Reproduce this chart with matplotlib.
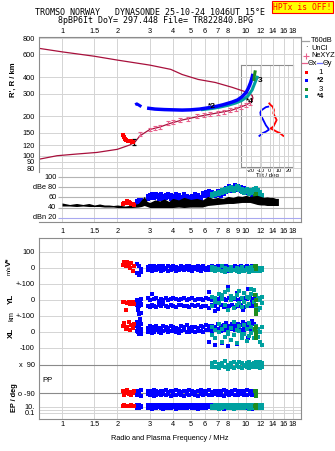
import matplotlib
matplotlib.use("Agg")
import matplotlib.pyplot as plt
import numpy as np
from matplotlib.lines import Line2D
from matplotlib.patches import Rectangle

plt.rcParams['font.family'] = ['Liberation Sans', 'DejaVu Sans']

# ---------------- data ----------------
FREQ_TICKS = [1, 1.5, 2, 3, 4, 5, 6, 7, 8, 9, 10, 12, 14, 16, 18]
TOP_LABELS = ['1', '1.5', '2', '3', '4', '5', '6', '7', '8', '', '10', '12', '14', '16', '18']
MID_LABELS = ['1', '1.5', '2', '3', '4', '5', '6', '7', '8', '9', '10', '12', '14', '16', '18']
H_TICKS = [80, 90, 100, 120, 150, 200, 300, 400, 600, 800]
DB_TICKS = [100, 80, 60, 40, 20]
DB_LABELS = ['100', 'dBe 80', '60', '40', 'dBn 20']
TILT_TICKS = [-20, -10, 0, 10, 20]

# model virtual-height curve
MODEL_F = [0.75, 0.94, 1.2, 1.55, 2.0, 2.34, 2.5, 2.65, 3.0, 3.4, 3.86, 4.5, 5.5, 6.5, 7.5, 8.4,
           9.3, 10.0, 10.5, 10.8, 10.9, 10.8, 10.4, 9.9, 8.4, 6.8, 5.5, 4.5, 3.9, 3.0, 2.0, 1.5, 1.0, 0.75]
MODEL_H = [94, 100, 103, 106, 112, 121, 128, 142, 159, 166, 177, 188, 200, 209, 217, 224,
           236, 245, 255, 265, 278, 290, 300, 310, 335, 365, 385, 420, 460, 496, 542, 580, 627, 667]
NE_F = [2.65, 3.0, 3.2, 3.4, 3.78, 4.0, 4.4, 4.85, 5.4, 5.9, 6.4, 7.0, 7.6, 8.2, 8.8, 9.4, 10.0, 10.5]
NE_H = [148, 159, 163, 165, 177, 182, 188, 193, 202, 206, 210, 214, 218, 223, 229, 236, 244, 254]
NE_BLACK_F = [2.47]
NE_BLACK_H = [128]

RED_TOP_F = [2.15, 2.17, 2.2, 2.24, 2.28, 2.32, 2.36, 2.4, 2.44]
RED_TOP_H = [143, 139, 134, 131, 130, 129, 130, 128, 127]
BLUE_BLOB_F = [2.5, 2.55, 2.6, 2.65, 2.7]
BLUE_BLOB_H = [246, 250, 246, 242, 238]
BLUE_TOP_F = [2.9, 3.2, 3.6, 4.0, 4.5, 5.0, 5.6, 6.2, 6.8, 7.5, 8.4, 9.0, 9.5, 10.0, 10.3, 10.6, 10.8, 10.9]
BLUE_TOP_H = [232, 228, 226, 225, 224, 225, 228, 233, 238, 246, 258, 268, 283, 305, 330, 365, 400, 425]
TEAL_TOP_F = [5.8, 6.5, 7.2, 8.0, 8.8, 9.5, 10.2, 10.8, 11.2, 11.5]
TEAL_TOP_H = [226, 230, 236, 244, 254, 266, 285, 320, 365, 400]
GREEN_TOP_F = [11.05, 11.1, 11.2]
GREEN_TOP_H = [385, 410, 440]

# tilt inset
TX_TILT = [-0.4, 1, 3.2, 4.6, 3.9, 5.7, 7.5, 5.7, 3.9, 1, 3.9, 7.5, 11, 14.6]
TX_H = [252, 245, 238, 224, 212, 199, 188, 177, 167, 162, 158, 153, 149, 142]
TY_TILT = [-1.5, -4, -8.6, -10, -9.6, -8, -6.9, -4, -1.5, -1, -4, -7.5, -11]
TY_H = [238, 236, 224, 215, 205, 195, 188, 171, 162, 158, 153, 149, 142]

# amplitude panel
F_N = [1.0, 1.1, 1.2, 1.3, 1.4, 1.5, 1.6, 1.7, 1.8, 1.9,
       2.0, 2.2, 2.4, 2.6, 2.7, 2.8, 2.9, 3.0, 3.2, 3.4,
       3.6, 3.8, 4.0, 4.3, 4.6, 5.0, 5.4, 5.8, 6.2, 6.6,
       7.0, 7.5, 8.0, 8.5, 9.0, 9.5, 10.0, 10.5, 11.0, 11.5,
       12.0, 12.5, 13.0, 13.5, 14.0, 14.5, 15.0]
N_LO = [43, 43, 42, 43, 42, 42, 42, 41, 41, 41,
        40, 40, 40, 41, 42, 44, 42, 40, 40, 40,
        40, 40, 40, 41, 40, 41, 41, 41, 44, 45,
        46, 47, 48, 48, 49, 50, 50, 50, 48, 46,
        45, 45, 44, 44, 44, 44, 44]
N_HI = [49, 46, 48, 46, 48, 45, 47, 45, 45, 44,
        45, 43, 45, 48, 55, 62, 52, 50, 55, 53,
        57, 52, 58, 55, 60, 56, 58, 55, 62, 58,
        60, 58, 62, 60, 63, 62, 64, 62, 63, 64,
        62, 60, 61, 60, 60, 58, 58]

F_B = [2.55, 2.62, 2.68, 2.95, 3.02,
       3.10, 3.18, 3.26, 3.35, 3.45,
       3.55, 3.66, 3.78, 3.90, 4.02,
       4.15, 4.30, 4.45, 4.60, 4.76,
       4.93, 5.10, 5.28, 5.47, 5.66,
       5.86, 6.07, 6.30, 6.53, 6.77,
       7.02, 7.28, 7.55, 7.83, 8.12,
       8.42, 8.73, 9.05, 9.38, 9.72,
       10.08, 10.45, 10.80, 11.10, 11.40]
DB_B1 = [52, 55, 54, 62, 64, 66, 65, 67, 64, 66, 63, 65, 67, 64, 62, 66, 64, 60, 66, 63,
         60, 62, 66, 64, 60, 68, 70, 72, 70, 68, 72, 70, 74, 78, 82, 80, 84, 82, 80, 78,
         76, 74, 72, 70, 66]
DB_B2 = [48, 50, 49, 56, 58, 60, 58, 60, 57, 59, 56, 58, 60, 57, 55, 58, 56, 54, 58, 56,
         54, 55, 58, 57, 55, 62, 63, 64, 63, 62, 64, 62, 66, 70, 74, 72, 76, 74, 72, 70,
         68, 66, 64, 62, 60]
V_B1 = [25, 10, -5, 5, 10, 0, 12, 8, 15, 5, 10, 2, 12, 6, 14, 8, 3, 12, 6, 10,
        15, 4, 9, 13, 5, 10, 2, 8, 14, 6, 10, 3, 9, 12, 5, 8, 14, 6, 10, 4,
        12, 7, 10, 5, 8]
V_B2 = [-30, -45, -25, -12, -8, -18, -10, -15, -5, -20, -12, -8, -16, -10, -6, -18, -12, -8, -14, -5,
        -10, -16, -8, -12, -18, -6, -10, -15, -8, -12, -5, -14, -10, -7, -16, -10, -5, -12, -8, -15,
        -6, -10, -14, -8, -12]
YL_B1 = [0, -10, 5, 10, 0, 40, 5, 10, -5, 8, 2, 12, 0, 6, 10, 4, 0, 8, 12, 2,
         6, 10, 0, 5, 8, 2, 10, 5, 0, 8, 4, 12, 6, 0, 10, 5, 8, 2, 6, 15,
         4, 10, 0, 8, 5]
YL_B2 = [-30, -40, -25, -35, -42, -30, -38, -45, -32, -40, -28, -36, -44, -30, -38, -42, -34, -30, -40, -36,
         -45, -32, -38, -30, -42, -36, -40, -48, -34, -38, -55, -30, -44, -36, -40, -32, -46, -38, -30, -42,
         -35, -40, -30, -38, -34]
XL_B1 = [40, 30, 50, 25, 35, 20, 30, 40, 28, 22, 35, 30, 25, 40, 32, 28, 20, 35, 30, 42,
         26, 34, 30, 22, 38, 30, 45, 35, 40, 30, 50, 38, 42, 55, 35, 48, 40, 52, 45, 38,
         50, 42, 55, 48, 40]
XL_B2 = [5, -10, 10, 0, 8, -5, 2, 12, 0, -4, 6, 10, -2, 5, 8, 0, -6, 4, 10, 2,
         -3, 6, 0, 8, 4, -2, 10, 15, 5, 12, 20, 8, 15, 10, 25, 18, 12, 20, 15, 10,
         22, 18, 12, 20, 15]
PP_B1 = [-75, -80, -70, -78, -82, -76, -72, -80, -84, -74, -78, -70, -82, -76, -80, -72, -78, -84, -74, -80,
         -70, -76, -82, -78, -72, -80, -76, -70, -84, -78, -74, -80, -72, -78, -82, -76, -70, -80, -74, -78,
         -72, -80, -76, -82, -74]
PP_B2 = [-100, -95, -108, -98, -104, -96, -110, -100, -94, -106, -98, -102, -96, -108, -100, -104, -95, -100, -110, -98,
         -104, -96, -100, -108, -94, -102, -98, -106, -100, -96, -104, -100, -110, -98, -102, -96, -106, -100, -94, -104,
         -100, -98, -106, -102, -96]
EP_B1 = [30, 45, 25, 40, 35, 50, 30, 42, 28, 38, 45, 32, 40, 26, 36, 48, 30, 40, 34, 44,
         28, 38, 46, 30, 40, 35, 28, 42, 36, 30, 44, 32, 38, 26, 40, 34, 30, 42, 36, 28,
         40, 32, 38, 30, 34]
EP_B2 = [4, 3, 6, 3, 5, 2.5, 4, 3, 6, 3.5, 2.5, 5, 3, 4, 6, 2.5, 4, 3, 5, 3.5,
         6, 3, 4, 2.5, 5, 3, 4, 6, 3, 4.5, 3, 5, 2.5, 4, 3, 6, 3.5, 4, 3, 5,
         3, 4, 2.5, 5, 3.5]
BX_F = [2.56, 2.58, 2.60, 2.63, 2.65, 2.68, 2.70, 2.62, 2.66]
BX_YL = [-5, -40, -60, -90, -120, -80, -30, -140, -20]
BX_XL = [60, 30, 0, 45, 75, -10, 20, 55, 10]
BS_F = [6.3, 6.8, 7.4, 8.0, 8.9, 9.6, 10.2, 10.8]
BS_YL = [50, -70, 30, 83, 45, -60, 70, -20]
BS_XL = [-60, -80, -70, -90, -75, 60, -40, 70]

F_T = [6.5, 6.8, 7.1, 7.4, 7.7, 8.0, 8.3, 8.6, 8.9, 9.2,
       9.5, 9.8, 10.1, 10.4, 10.7, 11.0, 11.3, 11.6, 11.9, 12.2]
DB_T1 = [66, 68, 70, 74, 76, 78, 80, 78, 82, 80, 76, 74, 76, 72, 74, 76, 78, 74, 70, 64]
DB_T2 = [62, 64, 66, 68, 70, 72, 74, 72, 76, 74, 70, 68, 70, 66, 68, 70, 72, 68, 64, 58]
V_T1 = [5, 0, -5, 10, 0, -8, 5, -10, 0, -5, 5, -12, 0, -5, 8, -3, -8, 0, -6, 2]
V_T2 = [-15, -20, -12, -18, -22, -15, -20, -14, -18, -25, -16, -20, -12, -22, -16, -18, -14, -20, -16, -12]
YL_T1 = [20, -10, 40, 5, -30, 60, 0, -50, 30, -20, 10, 45, -40, 15, 70, -10, 30, -60, 0, 20]
YL_T2 = [-40, 10, -20, 30, 50, -60, 25, 15, -30, 55, -45, -10, 20, -25, 40, 60, -35, 10, -50, -20]
XL_T1 = [30, 10, 50, 20, 40, 0, 25, 60, 15, 35, -10, 45, 20, 55, 30, 10, 40, 20, 0, 30]
XL_T2 = [-20, -40, 0, -60, -30, -10, -50, -20, -70, 5, -35, -15, -55, -25, -5, -40, -20, -30, -60, -80]
PP_T1 = [100, 110, 95, 105, 115, 90, 100, 108, 95, 112, 100, 90, 105, 110, 98, 104, 112, 96, 108, 100]
PP_T2 = [75, 80, 70, 85, 78, 65, 80, 72, 86, 75, 70, 82, 76, 68, 80, 74, 78, 84, 70, 76]
EP_T1 = [25, 40, 30, 45, 28, 36, 42, 30, 38, 26, 44, 32, 40, 28, 36, 30, 42, 34, 28, 38]
EP_T2 = [3, 5, 2.5, 4, 6, 3, 4.5, 2.5, 5, 3.5, 4, 3, 6, 2.5, 4, 5, 3, 4, 3.5, 5]

F_G = [11.25, 11.3, 11.35, 11.4, 11.3]
DB_G = [62, 66, 60, 64, 58]
V_G = [15, 5, -5, 10, 0]
YL_G = [30, 0, -30, -60, -90]
XL_G = [20, -10, -40, 0, 30]
PP_G = [-80, -90, -100, -110, -75]
EP_G = [20, 8, 30, 5, 12]

F_R = [2.15, 2.18, 2.22, 2.26, 2.30, 2.34, 2.38, 2.42, 2.46]
DB_R = [46, 48, 49, 52, 50, 49, 47, 46, 45]
V_R = [20, 35, 10, 40, 25, 0, 30, -20, 15]
YL_R = [-10, -15, -60, -20, -12, -25, -18, -10, -22]
XL_R = [40, 55, 20, 30, 65, 15, 45, 25, 50]
PP_R = [-80, -100, -90, -70, -95, -85, -105, -90, -80]
EP_R = [20, 30, 15, 25, 12, 18, 28, 14, 22]

# ---------------- style ----------------
RED = '#ff0000'
BLUE = '#0000ff'
GREEN = '#1e8c1e'
TEAL = '#00a0a0'
MODEL = '#a8103c'
PINK = '#e8608c'
GRID = '#d4d4d4'
SPINE = '#8c8c8c'
FS = 5.3
DOT = 5.5

W, H = 335, 451
fig = plt.figure(figsize=(W / 100, H / 100), dpi=100)
fig.patch.set_facecolor('white')


def rect(x0, y0, x1, y1):
    return [x0 / W, 1 - y1 / H, (x1 - x0) / W, (y1 - y0) / H]


XL_LIM = (0.75, 19.9)


def style_freq(ax):
    ax.set_xscale('log')
    ax.set_xlim(*XL_LIM)
    ax.set_xticks(FREQ_TICKS)
    ax.xaxis.set_minor_locator(matplotlib.ticker.NullLocator())
    for x in FREQ_TICKS:
        ax.axvline(x, color=GRID, lw=0.7, zorder=0)
    for s in ax.spines.values():
        s.set_color(SPINE)
        s.set_linewidth(0.8)
    ax.tick_params(length=0, labelsize=FS)


# ---------------- tilt inset (drawn first, below main) ----------------
axi = fig.add_axes(rect(241, 65, 293, 167))
axi.set_facecolor('none')
axi.set_yscale('log')
axi.set_xlim(-30.7, 25)
axi.set_ylim(81.9, 497)
axi.set_xticks(TILT_TICKS)
axi.set_xticklabels(['-20', '-10', '0', '10', '20'])
axi.set_yticks([])
axi.yaxis.set_minor_locator(matplotlib.ticker.NullLocator())
for t in TILT_TICKS:
    axi.axvline(t, color=GRID, lw=0.7, zorder=0)
axi.tick_params(length=0, labelsize=4.0, pad=0.5)
axi.set_xlabel('Tilt / deg', fontsize=4.3, labelpad=0)
for s in axi.spines.values():
    s.set_color(SPINE)
    s.set_linewidth(0.8)
axi.plot(TX_TILT, TX_H, color=RED, lw=1.3, zorder=3)
axi.plot(TY_TILT, TY_H, color=BLUE, lw=1.3, zorder=3)

# ---------------- top panel ----------------
ax = fig.add_axes(rect(39, 37, 301, 172))
ax.set_facecolor('none')
style_freq(ax)
ax.set_yscale('log')
ax.set_ylim(75, 815)
ax.set_yticks(H_TICKS)
ax.set_yticklabels([str(v) for v in H_TICKS])
ax.yaxis.set_minor_locator(matplotlib.ticker.NullLocator())
ax.tick_params(axis='y', pad=3)
for h in H_TICKS:
    ax.axhline(h, color=GRID, lw=0.7, zorder=0)
ax.xaxis.tick_top()
ax.set_xticklabels(TOP_LABELS)
ax.tick_params(axis='x', pad=1.5)
ax.spines['bottom'].set_visible(False)

ax.plot(MODEL_F, MODEL_H, color=MODEL, lw=0.9, zorder=2)
ne_h = np.array(NE_H, float)
ax.errorbar(NE_F, NE_H, yerr=ne_h * 0.035, fmt='none', ecolor=PINK, elinewidth=0.8,
            capsize=1.3, capthick=0.8, zorder=3)
ax.errorbar(NE_BLACK_F, NE_BLACK_H, yerr=np.array(NE_BLACK_H) * 0.05, fmt='none', ecolor='black',
            elinewidth=0.9, capsize=1.5, capthick=0.9, zorder=4)
ax.scatter(RED_TOP_F, RED_TOP_H, s=DOT, marker='s', c=RED, linewidths=0, zorder=4)
ax.plot(BLUE_BLOB_F, BLUE_BLOB_H, color=BLUE, lw=2.2, solid_capstyle='butt', zorder=4)
ax.plot(TEAL_TOP_F, TEAL_TOP_H, color=TEAL, lw=2.2, zorder=4)
ax.plot(BLUE_TOP_F, BLUE_TOP_H, color=BLUE, lw=2.5, solid_capstyle='butt', zorder=5)
ax.plot(GREEN_TOP_F, GREEN_TOP_H, color=GREEN, lw=2.2, zorder=5)
ax.text(6.5, 240, '*2', fontsize=6, fontweight='bold', ha='center', va='center', zorder=6)
ax.text(10.45, 262, '*4', fontsize=6, fontweight='bold', ha='center', va='center', zorder=6)
ax.text(11.9, 376, '3', fontsize=6, fontweight='bold', ha='center', va='center', zorder=6)

# ---------------- amplitude panel ----------------
axd = fig.add_axes(rect(39, 172, 301, 222))
axd.set_facecolor('none')
style_freq(axd)
axd.set_ylim(11.5, 110)
axd.set_yticks([])
axd.spines['top'].set_visible(False)
axd.spines['left'].set_visible(False)
axd.set_xticklabels(MID_LABELS)
axd.tick_params(axis='x', pad=4)
for v, lab in zip(DB_TICKS, DB_LABELS):
    c = '#a8a8f0' if v == 20 else '#b4b4b4'
    axd.hlines(v, 0.955, XL_LIM[1], color=c, lw=0.8, zorder=1)
    axd.text(0.935, v, lab, fontsize=FS, ha='right', va='center')
axd.scatter(F_B, DB_B1, s=DOT, marker='s', c=BLUE, linewidths=0, zorder=3)
axd.scatter(F_B, DB_B2, s=DOT, marker='s', c=BLUE, linewidths=0, zorder=3)
axd.scatter(F_T, DB_T1, s=DOT, marker='s', c=TEAL, linewidths=0, zorder=3)
axd.scatter(F_T, DB_T2, s=DOT, marker='s', c=TEAL, linewidths=0, zorder=3)
axd.scatter(F_G, DB_G, s=DOT, marker='s', c=GREEN, linewidths=0, zorder=3)
axd.fill_between(F_N, N_LO, N_HI, color='black', lw=0, zorder=4)
axd.scatter(F_R, DB_R, s=DOT, marker='s', c=RED, linewidths=0, zorder=5)

# ---------------- lower (velocity / location / polarisation) panel ----------------
BAND_ZERO = {'V': 268.0, 'YL': 300.0, 'XL': 332.0, 'PP': 379.0}
BAND_SCALE = {'V': 0.16, 'YL': 0.16, 'XL': 0.16, 'PP': 0.1556}
EP_ZERO, EP_DEC = 406.7, 3.0


def band_y(band, vals):
    v = np.asarray(vals, float)
    if band == 'EP':
        return EP_ZERO - EP_DEC * np.log10(v / 10.0)
    return BAND_ZERO[band] - BAND_SCALE[band] * v


axl = fig.add_axes(rect(39, 237.7, 301, 419.3))
style_freq(axl)
axl.set_ylim(419.3, 237.7)
tick_pos = [band_y('V', 100), band_y('V', 0), band_y('V', -100), band_y('YL', 0), band_y('YL', -100),
            band_y('XL', 0), band_y('XL', -100), band_y('PP', 90), band_y('PP', -90),
            band_y('EP', 10), band_y('EP', 0.1)]
tick_lab = ['100', '0', '+-100', '0', '+-100', '0', '-100', 'x  90', 'o -90', '10.', '0.1']
axl.set_yticks(tick_pos)
axl.set_yticklabels(tick_lab)
axl.tick_params(axis='y', pad=3)
axl.set_xticklabels(TOP_LABELS)
axl.tick_params(axis='x', pad=1.5)
for p in tick_pos + [float(band_y('EP', 1))]:
    axl.axhline(p, color=GRID, lw=0.7, zorder=0)
for p in [band_y('PP', 90), band_y('PP', -90)]:
    axl.axhline(p, color='#8a8a8a', lw=0.8, zorder=1)


def dots(f, y, c, s=DOT):
    axl.scatter(f, y, s=s, marker='s', c=c, linewidths=0, zorder=3)


for band, rows in [('V', (V_B1, V_B2)), ('YL', (YL_B1, YL_B2)), ('XL', (XL_B1, XL_B2)),
                   ('PP', (PP_B1, PP_B2)), ('EP', (EP_B1, EP_B2))]:
    for r in rows:
        dots(F_B, band_y(band, r), BLUE)
dots(BX_F, band_y('YL', BX_YL), BLUE)
dots(BX_F, band_y('XL', BX_XL), BLUE)
dots(BS_F, band_y('YL', BS_YL), BLUE)
dots(BS_F, band_y('XL', BS_XL), BLUE)
for band, rows in [('V', (V_T1, V_T2)), ('YL', (YL_T1, YL_T2)), ('XL', (XL_T1, XL_T2)),
                   ('PP', (PP_T1, PP_T2)), ('EP', (EP_T1, EP_T2))]:
    for r in rows:
        dots(F_T, band_y(band, r), TEAL)
for band, r in [('V', V_G), ('YL', YL_G), ('XL', XL_G), ('PP', PP_G), ('EP', EP_G)]:
    dots(F_G, band_y(band, r), GREEN)
for band, r in [('V', V_R), ('YL', YL_R), ('XL', XL_R), ('PP', PP_R), ('EP', EP_R)]:
    dots(F_R, band_y(band, r), RED)


# ---------------- texts ----------------
def ftext(x, y, s, **kw):
    return fig.text(x / W, 1 - y / H, s, **kw)


ftext(150, 12.3, 'TROMSO NORWAY   DYNASONDE 25-10-24 1046UT 15°E', family='DejaVu Sans Mono',
      fontsize=6, ha='center', va='center')
ftext(156, 20.3, '8pBP6It DoY= 297.448 File= TR822840.BPG', family='DejaVu Sans Mono',
      fontsize=6, ha='center', va='center')
ftext(302.5, 7, 'HPTx is OFF!', family='DejaVu Sans Mono', fontsize=5.8, color=RED,
      ha='center', va='center',
      bbox=dict(boxstyle='square,pad=0.2', facecolor='#ffff00', edgecolor=RED, lw=0.8))

ftext(13, 80, "R', R / km", rotation=90, fontsize=5.5, fontweight='bold', ha='center', va='center')
ftext(9, 266, 'V*', rotation=90, fontsize=5.8, fontweight='bold', ha='center', va='bottom')
ftext(9, 265, 'm/s', rotation=90, fontsize=4.3, ha='center', va='top')
ftext(11, 299, 'YL', rotation=90, fontsize=5.8, fontweight='bold', ha='center', va='center')
ftext(12, 316, 'km', rotation=90, fontsize=5.3, ha='center', va='center')
ftext(11, 333, 'XL', rotation=90, fontsize=5.8, fontweight='bold', ha='center', va='center')
ftext(42, 380, 'PP', fontsize=5.5, ha='left', va='center')
ftext(14, 398, 'EP / deg', rotation=90, fontsize=5.3, fontweight='bold', ha='center', va='center')
ftext(170, 439, 'Radio and Plasma Frequency / MHz', fontsize=5.3, ha='center', va='center')

# ---------------- legend ----------------
LEG_FS = 5.3
fig.add_artist(Line2D([302 / W, 309 / W], [1 - 41 / H] * 2, color='#a0a0a0', lw=0.9))
ftext(311, 41, 'T60dB', fontsize=LEG_FS, ha='left', va='center')
ftext(306, 48, '·', fontsize=LEG_FS, ha='center', va='center')
ftext(311, 48, 'UnCl', fontsize=LEG_FS, ha='left', va='center')
fig.add_artist(Line2D([306 / W], [1 - 55.7 / H], color=PINK, marker='+', ms=4, mew=0.8, lw=0))
ftext(311, 55.7, 'NeXYZ', fontsize=LEG_FS, ha='left', va='center')
fig.add_artist(Line2D([302 / W, 307 / W], [1 - 63.3 / H] * 2, color=PINK, lw=0.9))
ftext(308, 63.3, 'Θx', fontsize=LEG_FS, ha='left', va='center')
fig.add_artist(Line2D([317 / W, 322 / W], [1 - 63.3 / H] * 2, color='#7070ff', lw=0.9))
ftext(323, 63.3, 'Θy', fontsize=LEG_FS, ha='left', va='center')
for y, c, lab in [(72.7, RED, '1'), (80.7, BLUE, '*2'), (89.3, GREEN, '3'), (96.7, TEAL, '*4')]:
    fig.add_artist(Rectangle((304.5 / W, 1 - (y + 1.6) / H), 3.2 / W, 3.2 / H, color=c, lw=0))
    ftext(321, y, lab, fontsize=5.6, ha='center', va='center',
          fontweight='bold' if '*' in lab else 'normal')

fig.savefig('out.png', dpi=100)
